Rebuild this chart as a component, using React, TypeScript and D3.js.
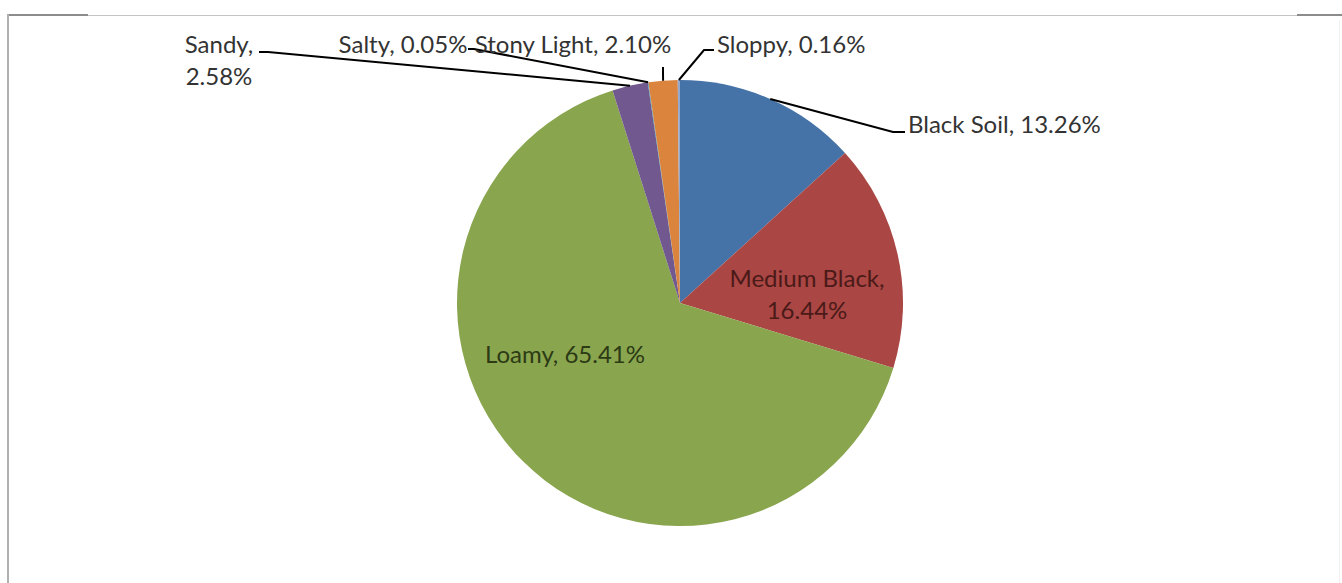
import React from "react";
import * as d3 from "d3";

const categories = ["Black Soil", "Medium Black", "Loamy", "Sandy", "Salty", "Stony Light", "Sloppy"];
const values = [13.26, 16.44, 65.41, 2.58, 0.05, 2.1, 0.16];
const valueLabels = ["13.26%", "16.44%", "65.41%", "2.58%", "0.05%", "2.10%", "0.16%"];
const colors = ["#4572A7", "#AA4643", "#89A54E", "#71588F", "#4198AF", "#DB843D", "#93A9CF"];

// label layout: lines of text, anchor position, text-anchor, leader elbow points (label side)
type Layout = { x: number; y: number; anchor: string; lines: (c: string, v: string) => string[]; leader?: [number, number][]; fill: string };
const layouts: Layout[] = [
  { x: 908, y: 133, anchor: "start", lines: (c, v) => [`${c}, ${v}`], leader: [[893, 132], [905, 132]], fill: "#333" },
  { x: 807, y: 287, anchor: "middle", lines: (c, v) => [`${c},`, v], fill: "#4a1a19" },
  { x: 565, y: 363, anchor: "middle", lines: (c, v) => [`${c}, ${v}`], fill: "#2c3a15" },
  { x: 219, y: 53, anchor: "middle", lines: (c, v) => [`${c},`, v], leader: [[268, 52], [259, 52]], fill: "#333" },
  { x: 403, y: 53, anchor: "middle", lines: (c, v) => [`${c}, ${v}`], leader: [[474, 49], [468, 49]], fill: "#333" },
  { x: 573, y: 53, anchor: "middle", lines: (c, v) => [`${c}, ${v}`], leader: [[663, 67]], fill: "#333" },
  { x: 717, y: 53, anchor: "start", lines: (c, v) => [`${c}, ${v}`], leader: [[704, 50], [714, 50]], fill: "#333" },
];

const W = 1342;
const H = 583;
const cx = 680;
const cy = 303;
const R = 223;
const FONT = "Lato, 'Open Sans', sans-serif";
const FS = 24;
const LH = 32;

export default function App() {
  const data = categories.map((c, i) => ({ c, v: values[i], label: valueLabels[i], color: colors[i], layout: layouts[i] }));
  const pie = d3.pie<any>().value((d) => d.v).sort(null).startAngle(0).endAngle(2 * Math.PI);
  const arcs = pie(data);
  const arc = d3.arc<any>().innerRadius(0).outerRadius(R);
  const edge = (a: any): [number, number] => {
    const m = (a.startAngle + a.endAngle) / 2;
    return [cx + R * Math.sin(m), cy - R * Math.cos(m)];
  };
  return (
    <svg width={W} height={H} style={{ position: "absolute", left: 0, top: 0, background: "#fff" }}>
      {/* frame */}
      <line x1={8} y1={15.5} x2={W} y2={15.5} stroke="#c4c4c4" strokeWidth={1} />
      <line x1={7} y1={15} x2={88} y2={15} stroke="#8c8c8c" strokeWidth={2} />
      <line x1={1297} y1={15} x2={W} y2={15} stroke="#8c8c8c" strokeWidth={2} />
      <line x1={8} y1={14} x2={8} y2={H} stroke="#b0b0b0" strokeWidth={2} />
      <line x1={1339.5} y1={20} x2={1339.5} y2={H} stroke="#f0f0f0" strokeWidth={1} />
      <g transform={`translate(${cx},${cy})`}>
        {arcs.map((a, i) => (
          <path key={i} d={arc(a) as string} fill={a.data.color} />
        ))}
      </g>
      {arcs.map((a, i) => {
        const L = a.data.layout as Layout;
        if (!L.leader) return null;
        const pts = [edge(a), ...L.leader];
        return <polyline key={"l" + i} points={pts.map((p) => p.join(",")).join(" ")} fill="none" stroke="#000" strokeWidth={2} />;
      })}
      {arcs.map((a, i) => {
        const L = a.data.layout as Layout;
        const lines = L.lines(a.data.c, a.data.label);
        return (
          <text key={"t" + i} x={L.x} y={L.y} textAnchor={L.anchor} fontFamily={FONT} fontSize={FS} fill={L.fill}>
            {lines.map((s, j) => (
              <tspan key={j} x={L.x} dy={j === 0 ? 0 : LH}>
                {s}
              </tspan>
            ))}
          </text>
        );
      })}
    </svg>
  );
}
